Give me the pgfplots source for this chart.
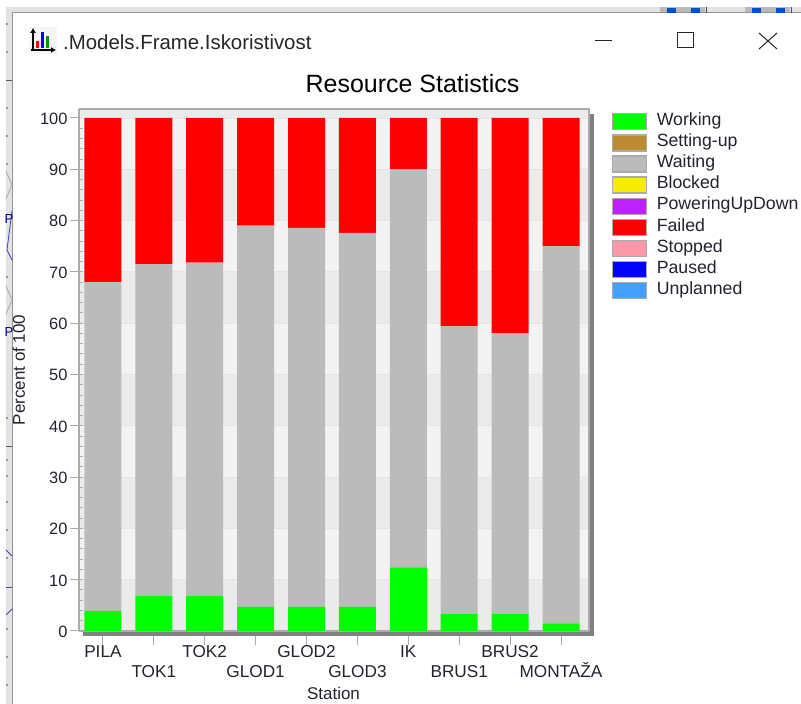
\documentclass[border=0pt]{standalone}
\usepackage{pgfplots}
\pgfplotsset{compat=1.18}
\usepackage{pgfplotstable}
\usepackage{fontspec}
\setmainfont{Liberation Sans}
\usetikzlibrary{arrows.meta}
\definecolor{txt}{HTML}{23232F}
\definecolor{bandA}{HTML}{EBEBEB}
\definecolor{bandB}{HTML}{F3F3F3}
\definecolor{shadow}{HTML}{808080}
\definecolor{frameg}{HTML}{ABABAB}
\definecolor{cSetup}{HTML}{BB8B34}
\definecolor{cWait}{HTML}{BBBBBB}
\definecolor{cBlock}{HTML}{F5EC00}
\definecolor{cPower}{HTML}{BB22FF}
\definecolor{cStop}{HTML}{FF99AA}
\definecolor{cUnpl}{HTML}{44A0FF}
\pgfplotstableread{
x working setup waiting blocked power failed stopped paused unplanned
0 3.9  0 64.1 0 0 32.0 0 0 0
1 6.9  0 64.6 0 0 28.5 0 0 0
2 6.9  0 64.9 0 0 28.2 0 0 0
3 4.7  0 74.3 0 0 21.0 0 0 0
4 4.7  0 73.9 0 0 21.4 0 0 0
5 4.7  0 72.9 0 0 22.4 0 0 0
6 12.4 0 77.6 0 0 10.0 0 0 0
7 3.4  0 56.0 0 0 40.6 0 0 0
8 3.4  0 54.6 0 0 42.0 0 0 0
9 1.5  0 73.5 0 0 25.0 0 0 0
}\stats
\pgfplotsset{
  swatch/.style={legend image code/.code={
    \fill[##1] (0pt,-8pt) rectangle (34pt,8pt);
    \draw[draw=frameg,fill=none,line width=1.3pt] (0pt,-8pt) rectangle (34pt,8pt);
    \path (44pt,0pt);}}
}
\begin{document}
\begin{tikzpicture}[x=1pt,y=1pt]
\useasboundingbox (0,0) rectangle (801,704);
\fill[white] (0,0) rectangle (801,704);
% window frame and what shows behind it
\fill[gray!22] (6,0) rectangle (12,697);
\fill[gray!22] (6,692) rectangle (801,697);
\draw[gray!85,line width=1.3pt] (12.5,0) -- (12.5,691.5) -- (801,691.5);
\foreach \yy in {24,52,108,136,164,277,418,460,476,502,530,558,629,657,685}
  \fill[black!70] (7,704-\yy) circle (0.8);
\draw[gray!70!black,line width=1pt] (6,704-80.5) -- (12,704-80.5);
\draw[gray!70!black,line width=1pt] (6,704-447) -- (12,704-447);
\draw[blue!50!gray,line width=0.8pt] (12,704-211) -- (7,704-250) -- (12,704-260);
\draw[blue!50!gray,line width=0.8pt] (6,704-550) -- (12,704-556);
\draw[blue!50!gray,line width=0.8pt] (6,704-587) -- (12,704-587);
\draw[blue!50!gray,line width=0.8pt] (6,704-615) -- (12,704-609);
\node[text=blue!50!black,font=\fontsize{13}{13}\selectfont] at (9,704-219) {P};
\node[text=blue!50!black,font=\fontsize{13}{13}\selectfont] at (9,704-332) {P};
\foreach \yy in {185,300} {
  \draw[gray!60,line width=1pt] (6,704-\yy+14) -- (12,704-\yy) -- (6,704-\yy-14);
  }
\foreach \xx in {663,748} {
  \fill[gray!55] (\xx-3,704-12) rectangle (\xx+42,704-7);
  \fill[blue!60!cyan!80!black] (\xx+4,704-13) rectangle (\xx+13,704-8);
  \fill[blue!60!cyan!80!black] (\xx+28,704-13) rectangle (\xx+37,704-8);
  \draw[black!70,line width=0.8pt] (\xx+43,704-13) -- (\xx+43,704-7);
}
% icon
\fill[black!4] (29,704-54) rectangle (57,704-27);
\fill[red] (36,704-48) rectangle (39,704-41);
\fill[blue] (41,704-48) rectangle (44,704-32);
\fill[green!60!black] (46,704-48) rectangle (49,704-36);
\draw[black,line width=1.4pt,-{Latex[length=5pt,width=6pt]}] (33,704-50) -- (33,704-28);
\draw[black,line width=1.4pt,-{Latex[length=5pt,width=6pt]}] (31,704-50) -- (56,704-50);
\node[anchor=base west,inner sep=0pt,text=black!85,font=\fontsize{20.4}{22}\selectfont] at (63,704-49.5) {.Models.Frame.Iskoristivost};
% caption buttons
\draw[black!85,line width=1pt] (595,704-40.5) -- (612,704-40.5);
\draw[black!85,line width=1pt] (677,704-48) rectangle (693,704-33);
\draw[black!85,line width=1pt] (759,704-33) -- (777,704-49) (777,704-33) -- (759,704-49);
% plot background: bands and frame
\fill[bandA] (79,73+513) rectangle (589,595);
\foreach \v in {0,2,4,6,8} {
  \fill[bandA] (79,73+\v*51.3) rectangle (589,73+\v*51.3+51.3);
  \fill[bandB] (79,73+\v*51.3+51.3) rectangle (589,73+\v*51.3+102.6);
}
\foreach \v in {1,...,10} \draw[gray!20,line width=0.8pt] (79,73+\v*51.3) -- (589,73+\v*51.3);
\fill[shadow] (83,704-636) rectangle (594,704-631);
\fill[shadow] (589,704-636) rectangle (594,704-114);
\draw[frameg,line width=1.2pt] (79,595) -- (589,595) -- (589,73);
% y tick marks
\foreach \v in {0,...,10} \draw[frameg!80,line width=1pt] (70,73+\v*51.3) -- (79,73+\v*51.3);
\foreach \v in {1,...,49} \draw[frameg,line width=1pt] (79,73+\v*10.26) -- (83,73+\v*10.26);
\begin{axis}[
  at={(79pt,73pt)}, anchor=south west,
  scale only axis, width=510pt, height=522pt,
  xmin=-0.47, xmax=9.55, ymin=0, ymax=101.75,
  ybar stacked, bar width=37pt,
  axis line style={frameg,line width=1.2pt},
  axis x line*=bottom, axis y line*=left,
  /pgf/number format/assume math mode=true,
  tick align=outside,
  tick style={frameg,line width=1pt},
  ytick distance=10,
  major tick length=9pt,
  major x tick style={yshift=-5pt},
  xtick={0,...,9},
  xticklabels={PILA,{\rule{0pt}{12.4pt}\\TOK1},TOK2,{\rule{0pt}{12.4pt}\\GLOD1},GLOD2,{\rule{0pt}{12.4pt}\\GLOD3},IK,{\rule{0pt}{12.4pt}\\BRUS1},BRUS2,{\rule{0pt}{12.4pt}\\MONTAŽA}},
  x tick label style={align=center,text=txt,font=\fontsize{17.2}{20}\selectfont,inner sep=0pt,yshift=-5pt,anchor=north},
  y tick label style={text=txt,font=\fontsize{16.4}{18}\selectfont,xshift=1pt,yshift=-0.7pt},
  xlabel={Station},
  xlabel style={text=txt,font=\fontsize{17}{18}\selectfont,at={(axis description cs:0.499,-0.119)},anchor=center,inner sep=0pt},
  ylabel={Percent of 100},
  ylabel style={text=txt,font=\fontsize{17}{18}\selectfont,at={(axis description cs:-0.118,0.5)},anchor=center,inner sep=0pt},
  title={Resource Statistics},
  title style={text=black,font=\fontsize{25}{27}\selectfont,at={(axis description cs:0.654,1.0363)},anchor=center,inner sep=0pt},
  legend style={at={(axis description cs:1.045,0.996)},anchor=north west,draw=none,fill=none,
    font=\fontsize{17.7}{18}\selectfont,text=txt,
    row sep=0pt,column sep=0pt,inner sep=0pt,
    nodes={inner sep=0pt,text height=12pt,text depth=4.6pt,minimum height=21.1pt}},
  legend cell align=left,
  area legend,
  swatch,
  clip=true,
]
\addplot+[draw=none,fill=green] table[x=x,y=working] {\stats};
\addplot+[draw=none,fill=cSetup] table[x=x,y=setup] {\stats};
\addplot+[draw=none,fill=cWait] table[x=x,y=waiting] {\stats};
\addplot+[draw=none,fill=cBlock] table[x=x,y=blocked] {\stats};
\addplot+[draw=none,fill=cPower] table[x=x,y=power] {\stats};
\addplot+[draw=none,fill=red] table[x=x,y=failed] {\stats};
\addplot+[draw=none,fill=cStop] table[x=x,y=stopped] {\stats};
\addplot+[draw=none,fill=blue] table[x=x,y=paused] {\stats};
\addplot+[draw=none,fill=cUnpl] table[x=x,y=unplanned] {\stats};
\legend{Working,Setting-up,Waiting,Blocked,PoweringUpDown,Failed,Stopped,Paused,Unplanned}
\end{axis}
\end{tikzpicture}
\end{document}
